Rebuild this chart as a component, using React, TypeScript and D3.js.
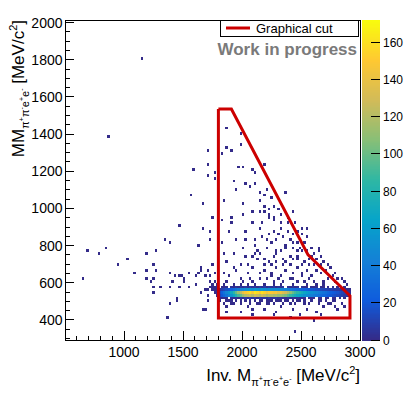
import * as d3 from 'd3';
import React from 'react';

// axis ranges (MeV/c^2) and colour range (entries)
const xDomain = [500, 3000];
const yDomain = [292, 2014];
const zMax = 172;
const binX = 20;
const binY = 15;

const xTicks = [1000, 1500, 2000, 2500, 3000];
const yTicks = [400, 600, 800, 1000, 1200, 1400, 1600, 1800, 2000];
const zTicks = [0, 20, 40, 60, 80, 100, 120, 140, 160];

// graphical cut vertices
const cutX = [1800, 1910, 2560, 2915, 2915, 1800, 1800];
const cutY = [1535, 1535, 750, 530, 410, 410, 1535];

// dense band: rows of counts, one column per x bin starting at bandX0
const bandX0 = 1780;
const bandRowY = [495, 510, 525, 540, 555, 570, 585];
const bandCounts = [
  [0,1,0,0,1,0,2,0,1,0, 2,0,1,0,2,0,1,0,0,2, 0,1,0,1,0,2,0,1,0,0, 1,0,1,0,0,1,0,1,0,0, 1,0,0,1,0,0,1,0,0,0, 1,0,0,0,0,0,0],
  [0,2,1,3,2,0,4,3,5,2, 6,4,7,3,8,5,6,2,7,5, 6,3,7,4,5,6,3,5,4,2, 5,3,4,2,3,1,3,2,0,2, 2,1,0,2,1,0,1,1,0,1, 1,0,1,0,1,0,0],
  [2,12,20,28,36,44,56,68,80,92, 100,112,120,124,128,120,132,126,120,130, 124,116,122,120,116,118,112,114,108,104, 96,88,80,74,68,64,59,54,50,46, 43,40,37,34,30,28,26,22,20,18, 16,14,12,10,8,5,2],
  [3,15,25,35,45,55,70,85,100,115, 125,140,150,155,160,150,165,158,150,162, 155,145,152,150,145,148,140,142,135,130, 120,110,100,92,85,80,74,68,62,58, 54,50,46,42,38,35,32,28,25,22, 20,18,15,12,10,6,3],
  [1,5,9,12,16,19,25,30,35,40, 44,49,52,54,56,52,58,55,52,57, 54,50,53,52,50,52,49,50,47,45, 42,38,35,32,30,28,26,24,22,20, 19,18,16,15,13,12,11,10,9,8, 7,6,5,4,4,2,1],
  [1,0,2,1,3,0,4,2,5,1, 6,3,7,2,8,4,6,1,7,3, 8,2,6,4,7,1,5,3,6,0, 4,2,5,1,3,0,4,2,1,0, 2,1,3,0,2,1,0,2,0,1, 0,1,0,0,1,0,0],
  [0,0,0,1,0,0,0,1,0,0, 1,0,0,1,0,0,1,0,0,0, 1,0,0,0,1,0,0,1,0,0, 0,0,1,0,0,0,0,0,1,0, 0,0,0,0,0,1,0,0,0,0, 0,0,0,0,0,0,0],
];

// isolated entries [x, y], one count each
const scatterPoints: [number, number][] = [
  [1158, 1804], [873, 1388], [1873, 1433], [1989, 1402], [1709, 1316], [1862, 1333],
  [1839, 1302], [1907, 1309], [1986, 1345], [1718, 1232], [1585, 1200], [1700, 1171],
  [1774, 1185], [1774, 1162], [2009, 1225], [1975, 1221], [2187, 1243], [2090, 1200],
  [2118, 1191], [1927, 1144], [1946, 1099], [2026, 1128], [2068, 1117], [2105, 1126],
  [2153, 1094], [2215, 1099], [2240, 1063], [2367, 1085], [1563, 1071], [1673, 1028],
  [1850, 1040], [2009, 1028], [2147, 1046], [2181, 1072], [2081, 983], [2147, 983],
  [2187, 986], [2223, 995], [2266, 1010], [2302, 992], [2322, 1028], [2432, 983],
  [1751, 956], [1822, 941], [1915, 952], [2009, 970], [1475, 913], [1664, 897],
  [1732, 884], [1904, 920], [2028, 884], [2096, 920], [2167, 920], [2226, 947],
  [2260, 934], [2322, 929], [2387, 920], [2449, 920], [2506, 898], [2551, 898],
  [1350, 827], [1398, 812], [1624, 796], [1726, 825], [1890, 870], [1958, 830],
  [2028, 834], [2102, 827], [2167, 848], [2203, 830], [2266, 877], [2294, 830],
  [2356, 848], [2407, 830], [2469, 812], [2534, 812], [2641, 791], [686, 769],
  [785, 755], [847, 784], [1192, 755], [1260, 769], [1023, 726], [950, 696],
  [1099, 653], [1181, 669], [1249, 696], [1271, 669], [644, 626], [1198, 624],
  [1220, 601], [1257, 624], [1249, 583], [1311, 583], [1249, 550], [1384, 654],
  [1432, 633], [1466, 638], [1494, 642], [1517, 624], [1542, 651], [1602, 638],
  [1624, 654], [1658, 665], [1681, 638], [1390, 583], [1418, 601], [1466, 583],
  [1508, 601], [1556, 583], [1446, 522], [1446, 507], [1398, 480], [1373, 409],
  [1666, 453], [1686, 453], [1644, 687], [1715, 669], [1743, 696], [1616, 588],
  [1644, 552], [1689, 565], [1712, 525], [1700, 507], [1734, 606], [1751, 570],
  [1760, 543], [1774, 583], [1780, 525], [1763, 651], [1734, 633],
  [1770, 575], [1770, 560], [1790, 590], [1790, 575], [1790, 576], [1750, 560],
  [1790, 545], [1770, 545], [1750, 590], [1730, 580], [1710, 560], [1770, 600],
  [2026, 740], [2082, 749], [2124, 723], [2153, 758], [2195, 732], [2223, 705],
  [2266, 740], [2294, 714], [2322, 767], [2350, 732], [2379, 705], [2407, 749],
  [2435, 723], [2477, 740], [2506, 767], [2520, 714], [2562, 732], [2605, 758],
  [2633, 723], [2675, 740], [2689, 705], [1870, 705], [1927, 687], [1983, 696],
  [1842, 651], [1898, 633], [1955, 660], [2040, 651], [2096, 678], [2153, 651],
  [2195, 669], [2252, 651], [2288, 678], [2322, 642], [2364, 669], [2421, 651],
  [2463, 678], [2506, 651], [2548, 669], [2590, 642], [2633, 669], [2675, 651],
  [2718, 669], [2760, 633], [2802, 615], [2209, 615], [2266, 606], [2435, 615],
  [2534, 606], [2605, 611], [1870, 606], [1997, 615], [2096, 601], [2364, 803],
  [2421, 785], [2209, 794], [2124, 776], [2294, 776], [2590, 785], [2647, 776],
  [2195, 1019], [2229, 970], [2266, 956], [2329, 970], [2392, 947], [2463, 884],
  [2506, 866], [2548, 848], [2435, 866], [2387, 884], [2322, 893], [2153, 893],
  [2223, 866], [1842, 489], [1870, 471], [1927, 489], [1997, 444], [2040, 471],
  [2096, 453], [2124, 489], [2181, 462], [2237, 480], [2294, 444], [2336, 471],
  [2407, 489], [2435, 453], [2491, 426], [2548, 462], [2605, 391], [2633, 444],
  [2689, 471], [2746, 489], [2802, 453], [2845, 480], [1870, 435], [2082, 432],
  [2266, 426], [2407, 417], [2661, 426], [1884, 507], [1955, 507], [2026, 498],
  [2153, 504], [2223, 507], [2308, 498], [2379, 507], [2477, 498], [2534, 507],
  [2590, 498], [2661, 507], [2717, 507], [2774, 507], [2831, 516], [2455, 337],
  [2050, 700], [2110, 760], [2180, 700], [2240, 690], [2280, 760], [2340, 700],
  [2400, 690], [2460, 720], [2500, 700], [2560, 690], [2610, 700], [2660, 690],
  [2720, 700], [2750, 680], [2780, 650], [2840, 620], [2870, 600], [2000, 600],
  [2060, 620], [2140, 625], [2180, 590], [2240, 630], [2300, 620], [2350, 600],
  [2400, 625], [2460, 600], [2500, 630], [2560, 620], [2620, 590], [2680, 600],
  [2720, 620], [2780, 600], [2880, 590], [2300, 860], [2360, 780], [2420, 820],
  [2480, 790], [2540, 770], [2590, 740], [2460, 770], [2240, 810], [2100, 800],
  [2000, 780], [1930, 760], [1850, 760], [1820, 820], [1900, 480], [1980, 490],
  [2060, 485], [2150, 480], [2210, 490], [2270, 485], [2350, 480], [2450, 485],
  [2520, 480], [2570, 490], [2650, 485], [2720, 480], [2780, 470], [2860, 470],
];

// ROOT kBird palette
const birdStops = [0, 0.125, 0.25, 0.375, 0.5, 0.625, 0.75, 0.875, 1];
const birdR = [0.2082, 0.0592, 0.078, 0.0232, 0.1802, 0.5301, 0.8186, 0.9956, 0.9764];
const birdG = [0.1664, 0.3599, 0.5041, 0.6419, 0.7178, 0.7492, 0.7328, 0.7862, 0.9832];
const birdB = [0.5293, 0.8684, 0.8385, 0.7914, 0.6425, 0.4662, 0.3499, 0.1968, 0.0539];

const FONT = '"Liberation Sans", Arial, Helvetica, sans-serif';

type Seg = { text: string; size: number; shift: number };

function richText(sel: any, segs: Seg[]) {
  let prev = 0;
  segs.forEach((s) => {
    sel.append('tspan').attr('font-size', s.size).attr('dy', s.shift - prev).text(s.text);
    prev = s.shift;
  });
}

function titleSegs(head: string): Seg[] {
  return [
    { text: head, size: 17, shift: 0 },
    { text: 'π', size: 11, shift: 5 },
    { text: '+', size: 7, shift: 0 },
    { text: 'π', size: 11, shift: 5 },
    { text: '-', size: 7, shift: 0 },
    { text: 'e', size: 11, shift: 5 },
    { text: '+', size: 7, shift: 0 },
    { text: 'e', size: 11, shift: 5 },
    { text: '-', size: 7, shift: 0 },
    { text: ' [MeV/c', size: 17, shift: 0 },
    { text: '2', size: 11, shift: -7 },
    { text: ']', size: 17, shift: 0 },
  ];
}

export default function App() {
  const ref = React.useRef<SVGSVGElement>(null);

  React.useEffect(() => {
    const svg = d3.select(ref.current);
    svg.selectAll('*').remove();

    const left = 65, right = 360, top = 20, bottom = 340;
    const x = d3.scaleLinear().domain(xDomain).range([left, right]);
    const y = d3.scaleLinear().domain(yDomain).range([bottom, top]);

    const colors = birdStops.map((_, i) => d3.rgb(birdR[i] * 255, birdG[i] * 255, birdB[i] * 255).toString());
    const palette = d3.scaleLinear<string>().domain(birdStops).range(colors).interpolate(d3.interpolateRgb).clamp(true);
    const color = (v: number) => palette(Math.floor((v / zMax) * 254) / 254);

    // fill histogram bins
    const cells = new Map<string, { x0: number; y0: number; n: number }>();
    const add = (x0: number, y0: number, n: number) => {
      if (n <= 0) return;
      const key = x0 + ':' + y0;
      const c = cells.get(key);
      if (c) c.n += n;
      else cells.set(key, { x0, y0, n });
    };
    bandCounts.forEach((row, r) => {
      row.forEach((n, i) => add(bandX0 + i * binX, bandRowY[r], n));
    });
    scatterPoints.forEach(([px, py]) => {
      const x0 = xDomain[0] + Math.floor((px - xDomain[0]) / binX) * binX;
      const y0 = 300 + Math.floor((py - 300) / binY) * binY;
      add(x0, y0, 1);
    });

    svg.append('g')
      .attr('shape-rendering', 'crispEdges')
      .selectAll('rect')
      .data(Array.from(cells.values()).sort((a, b) => a.n - b.n))
      .enter().append('rect')
      .attr('x', (d) => x(d.x0))
      .attr('y', (d) => y(d.y0 + binY))
      .attr('width', x(binX) - x(0))
      .attr('height', y(0) - y(binY))
      .attr('fill', (d) => color(Math.min(d.n, zMax)));

    // frame
    const axes = svg.append('g').attr('stroke', '#000').attr('shape-rendering', 'crispEdges');
    axes.append('rect')
      .attr('x', left).attr('y', top)
      .attr('width', right - left).attr('height', bottom - top)
      .attr('fill', 'none');

    // x ticks
    d3.range(500, 3001, 100).forEach((v) => {
      const major = v % 500 === 0;
      axes.append('line')
        .attr('x1', x(v)).attr('x2', x(v))
        .attr('y1', bottom).attr('y2', bottom - (major ? 9 : 4.5));
    });
    // y ticks
    d3.range(300, 2001, 50).forEach((v) => {
      const major = v % 200 === 0;
      axes.append('line')
        .attr('x1', left).attr('x2', left + (major ? 9 : 4.5))
        .attr('y1', y(v)).attr('y2', y(v));
    });

    const labels = svg.append('g').attr('font-family', FONT).attr('fill', '#000');
    labels.selectAll('.xl').data(xTicks).enter().append('text')
      .attr('x', (d) => x(d)).attr('y', 356.5)
      .attr('text-anchor', 'middle').attr('font-size', 14)
      .text((d) => d);
    labels.selectAll('.yl').data(yTicks).enter().append('text')
      .attr('x', 62.5).attr('y', (d) => y(d) + 5)
      .attr('text-anchor', 'end').attr('font-size', 14)
      .text((d) => d);

    // axis titles
    const xt = labels.append('text').attr('x', right).attr('y', 381).attr('text-anchor', 'end');
    richText(xt, titleSegs('Inv. M'));
    const yt = labels.append('text')
      .attr('transform', `translate(23.5,${top}) rotate(-90)`)
      .attr('text-anchor', 'end');
    richText(yt, titleSegs('MM'));

    // colour bar
    const zy = d3.scaleLinear().domain([0, zMax]).range([bottom, top]);
    const cbx0 = 362, cbx1 = 380;
    const steps = d3.range(0, 255);
    svg.append('g').attr('shape-rendering', 'crispEdges')
      .selectAll('rect').data(steps).enter().append('rect')
      .attr('x', cbx0).attr('width', cbx1 - cbx0)
      .attr('y', (i) => zy(((i + 1) / 255) * zMax))
      .attr('height', (i) => zy((i / 255) * zMax) - zy(((i + 1) / 255) * zMax) + 0.5)
      .attr('fill', (i) => palette(i / 254));
    const zt = svg.append('g');
    zTicks.forEach((v) => {
      zt.append('line')
        .attr('x1', cbx1 - 9).attr('x2', cbx1)
        .attr('y1', zy(v)).attr('y2', zy(v))
        .attr('stroke', '#000').attr('shape-rendering', 'crispEdges');
      zt.append('text')
        .attr('x', cbx1 + 3).attr('y', zy(v) + 4.5)
        .attr('font-family', FONT).attr('font-size', 12)
        .text(v);
    });

    // graphical cut
    const cutLine = d3.line<number>().x((i) => x(cutX[i])).y((i) => y(cutY[i]));
    svg.append('path')
      .attr('d', cutLine(d3.range(cutX.length)))
      .attr('fill', 'none').attr('stroke', '#cc0000')
      .attr('stroke-width', 3).attr('stroke-linejoin', 'miter');

    // legend
    const lg = svg.append('g');
    lg.append('rect')
      .attr('x', 220.5).attr('y', 20.5).attr('width', 138).attr('height', 16)
      .attr('fill', '#fff').attr('stroke', '#000').attr('shape-rendering', 'crispEdges');
    lg.append('line')
      .attr('x1', 226).attr('x2', 250).attr('y1', 28).attr('y2', 28)
      .attr('stroke', '#cc0000').attr('stroke-width', 3);
    lg.append('text')
      .attr('x', 256).attr('y', 33)
      .attr('font-family', FONT).attr('font-size', 13)
      .text('Graphical cut');

    svg.append('text')
      .attr('x', 357).attr('y', 55)
      .attr('text-anchor', 'end')
      .attr('font-family', FONT).attr('font-size', 17).attr('font-weight', 'bold')
      .attr('fill', '#7a7a7a')
      .text('Work in progress');
  }, []);

  return (
    <svg
      ref={ref}
      width={409}
      height={397}
      style={{ position: 'absolute', left: 0, top: 0, background: '#fff' }}
    />
  );
}
